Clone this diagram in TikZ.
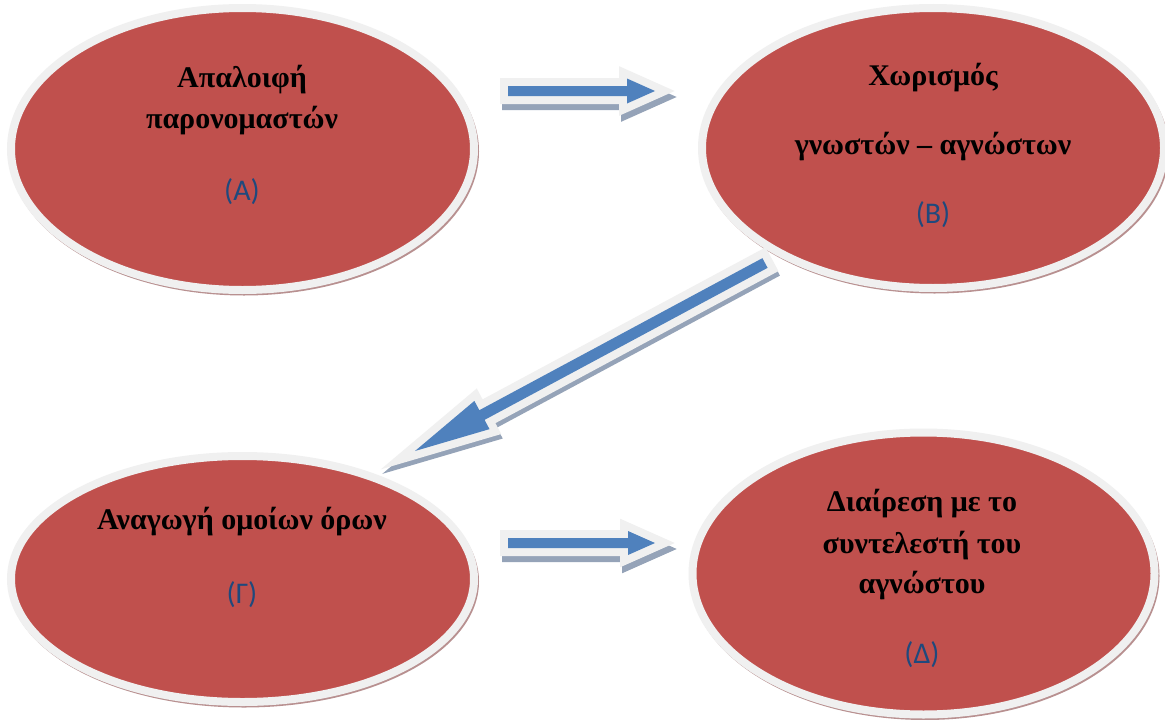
\documentclass[tikz,border=0pt]{standalone}
\usepackage{fontspec}
\setmainfont{Liberation Serif}
\newfontfamily\labelfont{Carlito}
\usetikzlibrary{shapes.geometric,calc}
\definecolor{ellred}{HTML}{C0504D}
\definecolor{rimgrey}{HTML}{F0F0F0}
\definecolor{ellshadow}{HTML}{B89090}
\definecolor{arrblue}{HTML}{4F81BD}
\definecolor{arrshade}{HTML}{95A3B8}
\definecolor{lblblue}{HTML}{1F497D}
% #1 start, #2 end, #3 half shaft, #4 half head, #5 head length
\newcommand\blockarrowpath[5]{($(#1)!#3!90:(#2)$) -- ($($(#2)!#5!(#1)$)!#3!90:(#2)$) -- ($($(#2)!#5!(#1)$)!#4!90:(#2)$) -- (#2) -- ($($(#2)!#5!(#1)$)!#4!-90:(#2)$) -- ($($(#2)!#5!(#1)$)!#3!-90:(#2)$) -- ($(#1)!#3!-90:(#2)$) -- cycle}
\begin{document}
\begin{tikzpicture}[x=1pt,y=1pt,
  bubble/.style={ellipse, fill=ellred, draw=rimgrey, line width=8pt, inner sep=0pt},
  bubbleshadow/.style={ellipse, fill=ellshadow, inner sep=0pt},
  steptext/.style={font=\bfseries\fontsize{30}{36}\selectfont, anchor=base, inner sep=0pt},
  steplabel/.style={font=\labelfont\fontsize{30}{36}\selectfont, text=lblblue, anchor=base, inner sep=0pt},
  arrowshadow/.style={draw=arrshade, fill=arrshade, line width=16pt, miter limit=20},
  arrowbody/.style={preaction={draw=rimgrey, line width=16pt, miter limit=20}, fill=arrblue}
]
\useasboundingbox[fill=white] (0,0) rectangle (1165,-720);

% shadows of the bubbles
\node[bubbleshadow, minimum width=470, minimum height=288] (As) at (244,-151.5) {};
\node[bubbleshadow, minimum width=469, minimum height=286] (Bs) at (934.5,-150.5) {};
\node[bubbleshadow, minimum width=470, minimum height=252] (Gs) at (244,-581.5) {};
\node[bubbleshadow, minimum width=469, minimum height=288] (Ds) at (925,-576) {};

% bubbles
\node[bubble, minimum width=463, minimum height=282] (A) at (242.5,-149) {};
\node[bubble, minimum width=462, minimum height=280] (B) at (933,-148) {};
\node[bubble, minimum width=463, minimum height=246] (G) at (242.5,-579) {};
\node[bubble, minimum width=462, minimum height=282] (D) at (923.5,-573.5) {};

% texts
\node[steptext] (A1) at (242,-87) {Απαλοιφή};
\node[steptext] (A2) at (242,-128) {παρονομαστών};
\node[steplabel] (A3) at (242,-200) {(Α)};

\node[steptext] (B1) at (933,-85) {Χωρισμός};
\node[steptext] (B2) at (933,-154) {γνωστών – αγνώστων};
\node[steplabel] (B3) at (933,-223) {(Β)};

\node[steptext] (G1) at (242,-529) {Αναγωγή ομοίων όρων};
\node[steplabel] (G2) at (242,-603) {(Γ)};

\node[steptext] (D1) at (922,-511) {Διαίρεση με το};
\node[steptext] (D2) at (922,-553) {συντελεστή του};
\node[steptext] (D3) at (922,-593) {αγνώστου};
\node[steplabel] (D4) at (922,-663) {(Δ)};

% arrow end points
\coordinate (ab-s) at (508,-91);
\coordinate (ab-e) at (655,-91);
\coordinate (bg-s) at (765,-263);
\coordinate (bg-e) at (415,-451);
\coordinate (gd-s) at (508,-543);
\coordinate (gd-e) at (655,-543);

% arrows
\path[arrowshadow, transform canvas={shift={(2pt,-6pt)}}] \blockarrowpath{ab-s}{ab-e}{5pt}{12.5pt}{28pt};
\path[arrowbody] \blockarrowpath{ab-s}{ab-e}{5pt}{12.5pt}{28pt};

\path[arrowshadow, transform canvas={shift={(1.5pt,-4.5pt)}}] \blockarrowpath{bg-s}{bg-e}{5.5pt}{16pt}{76pt};
\path[arrowbody] \blockarrowpath{bg-s}{bg-e}{5.5pt}{16pt}{76pt};

\path[arrowshadow, transform canvas={shift={(2pt,-6pt)}}] \blockarrowpath{gd-s}{gd-e}{5pt}{12pt}{27pt};
\path[arrowbody] \blockarrowpath{gd-s}{gd-e}{5pt}{12pt}{27pt};
\end{tikzpicture}
\end{document}
